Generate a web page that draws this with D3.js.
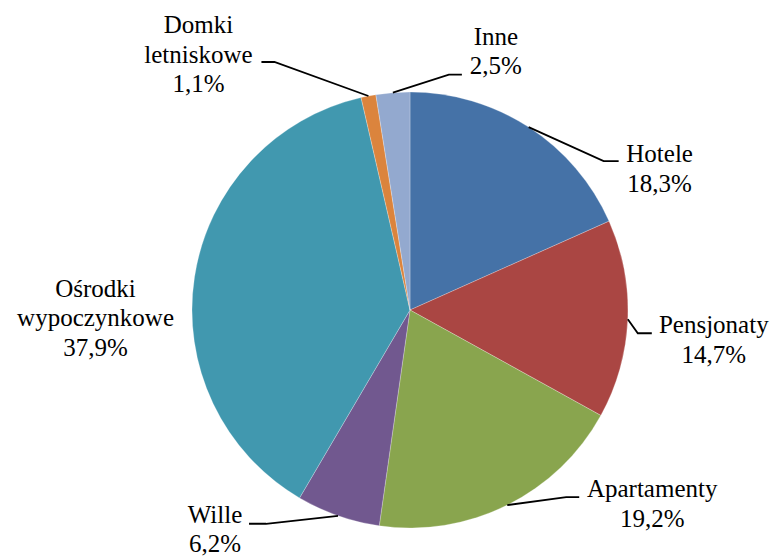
<!DOCTYPE html>
<html>
<head>
<meta charset="utf-8">
<script src="https://cdn.jsdelivr.net/npm/d3@7"></script>
<style>
  body { margin: 0; background: #fff; }
</style>
</head>
<body>
<svg></svg>
<script>
	var categories = ["Hotele", "Pensjonaty", "Apartamenty", "Wille", "Ośrodki wypoczynkowe", "Domki letniskowe", "Inne"];
	var values = [18.3, 14.7, 19.2, 6.2, 37.9, 1.1, 2.5];
	var colors = ["#4572a7", "#aa4643", "#89a54e", "#71588f", "#4198af", "#db843d", "#93a9cf"];

	var width = 773,
		height = 558;

	var cx = 410, cy = 310, radius = 218;

	// label placement: elbow offset from arc point, horizontal run, text offset from run end
	var layout = [
		{ elbow: [75, 34], run: 15, text: [41, 1] },
		{ elbow: [10, 14], run: 14, text: [62, 0] },
		{ elbow: [59, -8], run: 13, text: [73, 0] },
		{ elbow: [-72, 8], run: -17, text: [-34, -1] },
		{ elbow: null, run: 0, text: [-99, 20] },
		{ elbow: [-94, -34], run: -13, text: [-63, -29] },
		{ elbow: [56, -18], run: 13, text: [34, -30] }
	];

	var lineHeight = 29.5;

	var fmt = function(v) { return v.toFixed(1).replace(".", ",") + "%"; };

	var svg = d3.select("svg")
		.attr("width", width)
		.attr("height", height)
		.append("g")
		.attr("transform", "translate(" + cx + "," + cy + ")");

	var pie = d3.pie().sort(null).value(function(d) { return d; });
	var arcs = pie(values);

	var arc = d3.arc().innerRadius(0).outerRadius(radius);

	svg.selectAll(".slice")
		.data(arcs)
		.enter()
		.append("path")
		.attr("class", "slice")
		.attr("d", arc)
		.attr("fill", function(d, i) { return colors[i]; })
		.attr("stroke", "#ffffff")
		.attr("stroke-opacity", 0.5)
		.attr("stroke-width", 0.5);

	var edgePoint = function(d) {
		var a = (d.startAngle + d.endAngle) / 2;
		return [radius * Math.sin(a), -radius * Math.cos(a)];
	};

	arcs.forEach(function(d, i) {
		var p = edgePoint(d);
		var L = layout[i];
		var end;
		if (L.elbow) {
			var e = [p[0] + L.elbow[0], p[1] + L.elbow[1]];
			end = [e[0] + L.run, e[1]];
			svg.append("polyline")
				.attr("points", [p, e, end].map(function(q) { return q.join(","); }).join(" "))
				.attr("fill", "none")
				.attr("stroke", "#000")
				.attr("stroke-width", 1.8);
		} else {
			end = p;
		}

		var lines = categories[i].split(" ").concat([fmt(values[i])]);
		var t = svg.append("text")
			.attr("font-family", "'Times New Roman', Times, Tinos, 'Liberation Serif', 'Noto Serif', 'DejaVu Serif', serif")
			.attr("font-size", 25)
			.attr("fill", "#000")
			.attr("text-anchor", "middle")
			.attr("x", end[0] + L.text[0])
			.attr("y", end[1] + L.text[1]);
		lines.forEach(function(s, j) {
			t.append("tspan")
				.attr("x", end[0] + L.text[0])
				.attr("dy", j === 0 ? 0 : lineHeight)
				.text(s);
		});
	});
</script>
</body>
</html>
